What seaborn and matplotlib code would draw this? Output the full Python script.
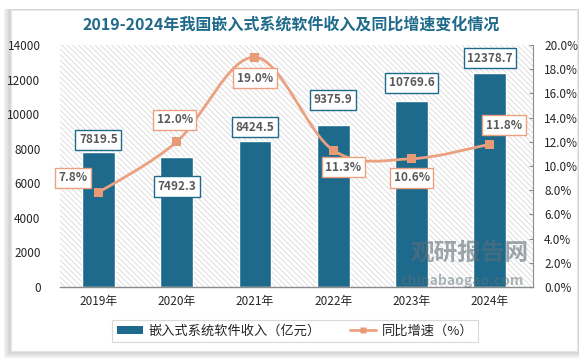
import numpy as np
import pandas as pd
import matplotlib.pyplot as plt
import seaborn as sns
from matplotlib.path import Path
from matplotlib.patches import PathPatch, Rectangle, Patch
from matplotlib.lines import Line2D

# data
years = ['2019年', '2020年', '2021年', '2022年', '2023年', '2024年']
revenue = [7819.5, 7492.3, 8424.5, 9375.9, 10769.6, 12378.7]
growth = [7.8, 12.0, 19.0, 11.3, 10.6, 11.8]

# label offsets in pixels (dx, dy)
bar_offsets = [(0, 12), (0, -29), (0, 14), (0, 25), (0, 18), (0, 15)]
line_offsets = [(-25, 15), (-2, 22), (0, -21), (10, -17), (0, -19), (14, 19)]

BAR = '#1d6a8c'
LINE = '#eba07f'
TXT = '#595959'

sns.set_style('white')
plt.rcParams['font.family'] = ['Noto Sans CJK SC', 'DejaVu Sans']
plt.rcParams['hatch.linewidth'] = 0.6

fig = plt.figure(figsize=(5.85, 3.6), dpi=100)
fig.patch.set_facecolor('#ffffff')

# card with shadow
for i, a in enumerate([0.05, 0.05, 0.06]):
    fig.patches.append(Rectangle(((8 - i * 2) / 585, (6 - i * 2) / 360), (571 + i * 2) / 585, (345 + i * 2) / 360,
                                 transform=fig.transFigure, facecolor='#000000', alpha=a,
                                 edgecolor='none', zorder=0))
fig.patches.append(Rectangle((11 / 585, 9 / 360), 566 / 585, 341 / 360, transform=fig.transFigure,
                             facecolor='white', edgecolor='#e6e6e6', lw=0.8, zorder=0.5))

ax = fig.add_axes([60 / 585, 1 - 287 / 360, 473 / 585, 242 / 360])
ax.set_zorder(1)
ax.patch.set_facecolor('white')
# hatched plot area
ax.add_patch(Rectangle((0, 0), 1, 1, transform=ax.transAxes, facecolor='white',
                       edgecolor='#d9d9d9', hatch='\\\\\\\\\\\\', lw=0, zorder=0))

df = pd.DataFrame({'year': years, 'revenue': revenue, 'growth': growth})
sns.barplot(data=df, x='year', y='revenue', color=BAR, width=0.42, ax=ax,
            edgecolor='white', linewidth=1.0, saturation=1, zorder=3)
ax.set_xlim(-0.49, 5.55)
ax.set_ylim(0, 14000)
ax.set_yticks(range(0, 14001, 2000))
ax.set_xlabel('')
ax.set_ylabel('')
ax.tick_params(axis='both', length=0, labelsize=8.5, colors='#262626', pad=6)
ax.tick_params(axis='y', pad=14)
for s in ['left', 'top', 'right']:
    ax.spines[s].set_visible(False)
ax.spines['bottom'].set_color('#8c8c8c')
ax.spines['bottom'].set_linewidth(1.0)
ax.spines['bottom'].set_zorder(4)

for i, v in enumerate(revenue):
    dx, dy = bar_offsets[i]
    ax.annotate(f'{v:.1f}', (i, v), xytext=(dx, dy), textcoords='offset pixels',
                ha='center', va='center', fontsize=8.5, fontweight='bold', color=TXT, zorder=6,
                bbox=dict(boxstyle='square,pad=0.3', facecolor='white', edgecolor=BAR, lw=1))

# secondary axis
ax2 = ax.twinx()
ax2.set_ylim(0, 20)
ax2.set_yticks(range(0, 21, 2))
ax2.set_yticklabels([f'{t:.1f}%' for t in range(0, 21, 2)])
ax2.tick_params(axis='y', direction='in', length=3, color='#8c8c8c', labelsize=8.5,
                labelcolor='#262626', pad=8)
for s in ['left', 'top', 'bottom']:
    ax2.spines[s].set_visible(False)
ax2.spines['right'].set_color('#8c8c8c')

# smoothed line (Catmull-Rom style bezier, like Excel smoothing)
xs = np.arange(len(growth), dtype=float)
ys = np.array(growth, dtype=float)
pts = np.column_stack([xs, ys])
ext = np.vstack([pts[0], pts, pts[-1]])
verts = [tuple(pts[0])]
codes = [Path.MOVETO]
for k in range(len(pts) - 1):
    p0, p1, p2, p3 = ext[k], ext[k + 1], ext[k + 2], ext[k + 3]
    c1 = p1 + (p2 - p0) / 6
    c2 = p2 - (p3 - p1) / 6
    verts += [tuple(c1), tuple(c2), tuple(p2)]
    codes += [Path.CURVE4] * 3
ax2.add_patch(PathPatch(Path(verts, codes), facecolor='none', edgecolor=LINE, lw=2, zorder=4))
sns.scatterplot(x=xs, y=ys, marker='s', s=42, color='#e89a76', edgecolor='none', ax=ax2, zorder=5)

for i, v in enumerate(growth):
    dx, dy = line_offsets[i]
    ax2.annotate(f'{v:.1f}%', (i, v), xytext=(dx, dy), textcoords='offset pixels',
                 ha='center', va='center', fontsize=8.5, fontweight='bold', color=TXT, zorder=6,
                 bbox=dict(boxstyle='square,pad=0.3', facecolor='white', edgecolor=LINE, lw=1))

# watermark
fig.text(470 / 585, 1 - 253 / 360, '观研报告网', ha='center', va='center', fontsize=17,
         fontweight='bold', color='#5f6f78', alpha=0.6, zorder=10)
fig.text(462 / 585, 1 - 281 / 360, 'chinabaogao.com', ha='center', va='center', fontsize=10,
         fontweight='bold', color='#5f6f78', alpha=0.5, zorder=10)

# title
fig.text(291 / 585, 1 - 25 / 360, '2019-2024年我国嵌入式系统软件收入及同比增速变化情况',
         ha='center', va='center', fontsize=11.5, fontweight='bold', color='#1f6a8a')

# legend
handles = [Patch(facecolor=BAR, edgecolor='none'),
           Line2D([0], [0], color=LINE, lw=2, marker='s', markersize=5, markerfacecolor='#e89a76',
                  markeredgecolor='none')]
leg = fig.legend(handles, ['嵌入式系统软件收入（亿元）', '同比增速（%）'], loc='center',
                 bbox_to_anchor=(295 / 585, 1 - 331 / 360), ncol=2, frameon=True, fancybox=False,
                 fontsize=9.5, handlelength=2.0, handleheight=0.5, columnspacing=2.2,
                 borderpad=0.35, handletextpad=0.4, borderaxespad=0)
leg.get_frame().set_edgecolor('#d0d0d0')
leg.get_frame().set_linewidth(0.8)
for t in leg.get_texts():
    t.set_color('#262626')

fig.savefig('out.png', dpi=100)
